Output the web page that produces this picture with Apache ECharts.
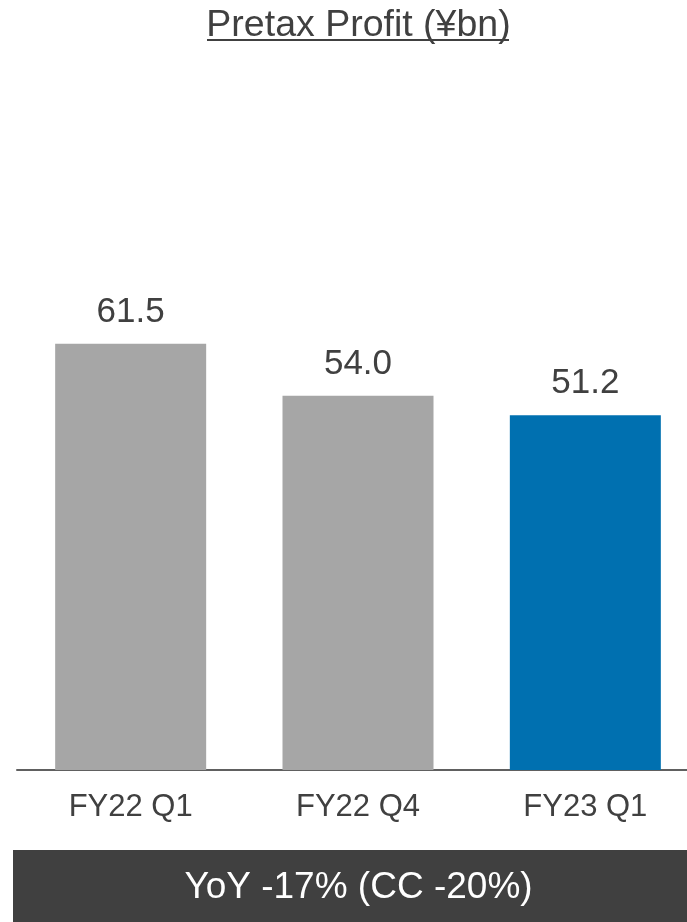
<!DOCTYPE html>
<html>
<head>
<meta charset="utf-8">
<script src="https://cdn.jsdelivr.net/npm/echarts@6/dist/echarts.min.js"></script>
<style>
html,body{margin:0;padding:0;background:#fff;}
#chart{width:687px;height:922px;}
</style>
</head>
<body>
<div id="chart"></div>
<script>
const titleText = 'Pretax Profit (¥bn)';
const categories = ['FY22 Q1', 'FY22 Q4', 'FY23 Q1'];
const values = [61.5, 54.0, 51.2];
const barColors = ['#A6A6A6', '#A6A6A6', '#0070B0'];
const footerText = 'YoY -17% (CC -20%)';

const FONT = "'Liberation Sans', Arial, sans-serif";
const chart = echarts.init(document.getElementById('chart'), null, {renderer: 'canvas'});
chart.setOption({
  backgroundColor: '#ffffff',
  animation: false,
  title: {
    text: titleText,
    left: 353.5, textAlign: 'center',
    top: 2,
    textStyle: {fontFamily: FONT, fontSize: 37.5, fontWeight: 'normal', color: '#404040'}
  },
  grid: {left: 17, top: 77, width: 682, height: 693, containLabel: false, outerBoundsMode: 'none'},
  xAxis: {
    type: 'category',
    data: categories,
    axisLine: {show: true, lineStyle: {color: '#606060', width: 2}},
    axisTick: {show: false},
    axisLabel: {fontFamily: FONT, fontSize: 31, color: '#404040', margin: 22}
  },
  yAxis: {
    type: 'value', min: 0, max: 100, show: false,
    splitLine: {show: false}
  },
  series: [{
    type: 'bar',
    barWidth: 151,
    data: values.map((v, i) => ({value: v, itemStyle: {color: barColors[i]}})),
    label: {
      show: true, position: 'top', distance: 14,
      formatter: p => p.value.toFixed(1),
      fontFamily: FONT, fontSize: 35, color: '#404040'
    }
  }],
  graphic: [
    {type: 'line', shape: {x1: 207, y1: 40, x2: 509, y2: 40}, style: {stroke: '#404040', lineWidth: 2}},
    {type: 'rect', shape: {x: 13, y: 850, width: 674, height: 72}, style: {fill: '#404040'}},
    {type: 'text', x: 358.5, y: 888, style: {text: footerText, fill: '#ffffff', font: "37px 'Liberation Sans', Arial, sans-serif", textAlign: 'center', textVerticalAlign: 'middle'}}
  ]
});
</script>
</body>
</html>
